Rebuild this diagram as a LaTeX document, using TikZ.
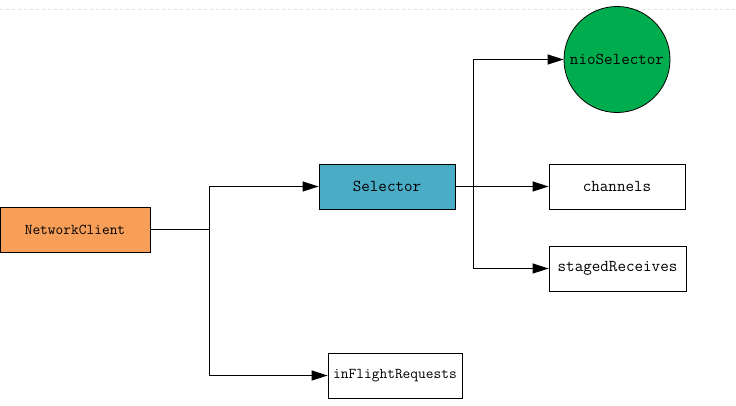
\documentclass[tikz,border=0pt]{standalone}
\usetikzlibrary{arrows.meta}
\definecolor{ncorange}{HTML}{F79F59}
\definecolor{selteal}{HTML}{4BACC6}
\definecolor{niogreen}{HTML}{00AD4E}
\tikzset{
  box/.style={draw=black, line width=0.8pt, rectangle, minimum height=45pt, inner sep=0pt, font=\ttfamily\fontsize{16.6}{18}\selectfont},
  smallbox/.style={box, font=\ttfamily\fontsize{15}{17}\selectfont},
  conn/.style={draw=black, line width=1pt},
  arr/.style={conn, -{Triangle[length=16pt,width=10pt]}}
}
\begin{document}
\begin{tikzpicture}[x=1pt,y=-1pt]
\useasboundingbox (0,0) rectangle (736,405);
\draw[gray!25, dashed, line width=0.5pt] (0,9) -- (736,9);
\node[smallbox, fill=ncorange, minimum width=150pt] (nc) at (75,229.5) {NetworkClient};
\node[box, fill=selteal, minimum width=136pt] (sel) at (387,186.5) {Selector};
\node[draw=black, line width=0.8pt, circle, fill=niogreen, minimum size=106pt, inner sep=0pt, font=\ttfamily\fontsize{16.6}{18}\selectfont] (nio) at (617,59.5) {nioSelector};
\node[box, minimum width=136pt] (ch) at (617,186.5) {channels};
\node[box, minimum width=137pt] (sr) at (617.5,268.5) {stagedReceives};
\node[smallbox, minimum width=134pt] (ifr) at (395,375.5) {inFlightRequests};
\coordinate (j1) at (209,229.5);
\coordinate (j2) at (473,186.5);
\draw[conn] (nc.east) -- (j1);
\draw[arr] (j1) |- (sel.west);
\draw[arr] (j1) |- (ifr.west);
\draw[arr] (sel.east) -- (ch.west);
\draw[arr] (j2) |- (nio.west);
\draw[arr] (j2) |- (sr.west);
\end{tikzpicture}
\end{document}
